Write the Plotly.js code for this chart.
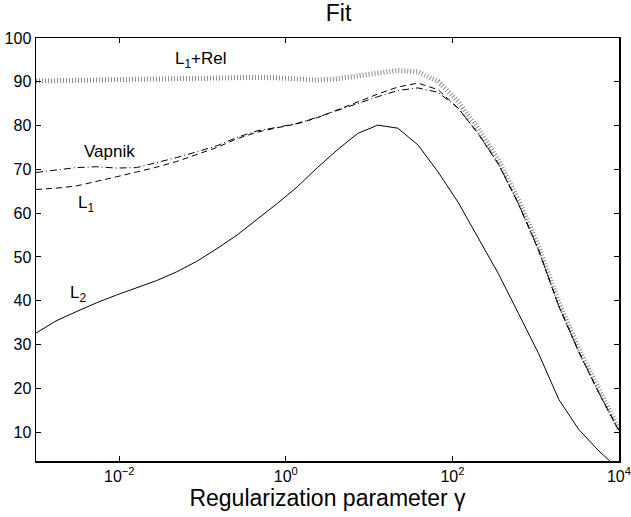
<!DOCTYPE html>
<html>
<head>
<meta charset="utf-8">
<script src="https://cdn.plot.ly/plotly-3.0.1.min.js"></script>
<style>html,body{margin:0;padding:0;background:#fff;}#chart{width:631px;height:517px;}</style>
</head>
<body>
<div id="chart"></div>
<script>
// Regularization parameter gamma (log-spaced samples)
const gamma = [0.001, 0.00174, 0.00304, 0.0053, 0.00924, 0.0161, 0.0281, 0.0489, 0.0853, 0.149,
  0.259, 0.452, 0.788, 1.37, 2.39, 4.18, 7.28, 12.7, 22.1, 38.5,
  67.3, 117, 204, 356, 621, 1080, 1890, 3290, 5740, 10000];

const fitL2 = [32.6, 35.4, 37.5, 39.5, 41.3, 43.0, 44.6, 46.6, 49.0, 51.9,
  55.0, 58.6, 62.2, 66.0, 70.4, 74.5, 78.2, 80.1, 79.4, 75.6,
  69.4, 62.5, 54.3, 46.2, 37.1, 28.0, 17.5, 10.6, 5.7, 1.5];

const fitL1 = [65.4, 65.7, 66.2, 67.2, 68.3, 69.4, 70.5, 71.8, 73.4, 75.0,
  77.0, 78.5, 79.5, 80.4, 81.8, 83.6, 85.4, 87.2, 88.8, 89.7,
  88.2, 84.0, 78.1, 71.2, 62.1, 51.6, 38.8, 28.3, 18.9, 10.3];

const fitVapnik = [69.3, 69.8, 70.4, 70.6, 70.3, 70.4, 71.5, 72.7, 74.0, 75.4,
  77.3, 78.8, 79.6, 80.5, 81.9, 83.5, 85.0, 86.6, 88.0, 88.6,
  87.6, 84.0, 78.2, 71.3, 62.2, 51.7, 38.9, 28.4, 19.0, 10.4];

const fitL1Rel = [90.2, 90.2, 90.3, 90.4, 90.5, 90.6, 90.7, 90.8, 90.9, 91.0,
  91.0, 91.0, 90.9, 90.7, 90.4, 90.7, 91.3, 92.0, 92.6, 92.3,
  90.1, 85.5, 79.3, 72.2, 63.0, 52.5, 39.7, 29.0, 19.5, 10.6];

const xTickVals = [0.01, 1, 100, 10000];
const xTickText = ['10<sup>\u22122</sup>', '10<sup>0</sup>', '10<sup>2</sup>', '10<sup>4</sup>'];
const yTickVals = [10, 20, 30, 40, 50, 60, 70, 80, 90, 100];

const curveLabels = ['L<sub>1</sub>+Rel', 'Vapnik', 'L<sub>1</sub>', 'L<sub>2</sub>'];
const labelX = [0.0955, 0.0076, 0.0040, 0.0032];
const labelY = [95.0, 74.0, 62.2, 41.5];

const FONT = 'Liberation Sans, Arial, Helvetica, sans-serif';

const traces = [
  {x: gamma, y: fitL1Rel, mode: 'lines', line: {color: '#8c8c8c', width: 5, dash: '1px,2px'}},
  {x: gamma, y: fitVapnik, mode: 'lines', line: {color: '#000', width: 1, dash: '7px,3px,1px,3px'}},
  {x: gamma, y: fitL1, mode: 'lines', line: {color: '#000', width: 1, dash: '6px,4px'}},
  {x: gamma, y: fitL2, mode: 'lines', line: {color: '#000', width: 1}}
];

const annotations = curveLabels.map((t, i) => ({
  x: Math.log10(labelX[i]), y: labelY[i], xref: 'x', yref: 'y', text: t,
  showarrow: false, font: {family: FONT, size: 17, color: '#000'}
}));

const layout = {
  width: 631, height: 517,
  margin: {l: 36, r: 12, t: 38, b: 56},
  paper_bgcolor: '#fff', plot_bgcolor: '#fff',
  showlegend: false,
  font: {family: FONT, color: '#000'},
  title: {text: 'Fit', font: {family: FONT, size: 23, color: '#000'}, x: 0.519, xref: 'paper', xanchor: 'center', y: 0.99, yanchor: 'top'},
  xaxis: {
    type: 'log', range: [-3, 4.0004],
    tickvals: xTickVals, ticktext: xTickText,
    ticks: 'inside', ticklen: 5, tickcolor: '#000', tickwidth: 1,
    showline: true, linecolor: '#000', linewidth: 1.5, mirror: 'ticks',
    showgrid: false, zeroline: false,
    tickfont: {family: FONT, size: 16, color: '#000'},
    title: {text: 'Regularization parameter \u03b3', font: {family: FONT, size: 23, color: '#000'}, standoff: 3}
  },
  yaxis: {
    range: [3.4, 100],
    tickvals: yTickVals,
    ticks: 'inside', ticklen: 5, tickcolor: '#000', tickwidth: 1,
    showline: true, linecolor: '#000', linewidth: 1.5, mirror: 'ticks',
    showgrid: false, zeroline: false,
    tickfont: {family: FONT, size: 16, color: '#000'}
  },
  annotations: annotations
};

Plotly.newPlot('chart', traces, layout, {displayModeBar: false, staticPlot: true});
</script>
</body>
</html>
